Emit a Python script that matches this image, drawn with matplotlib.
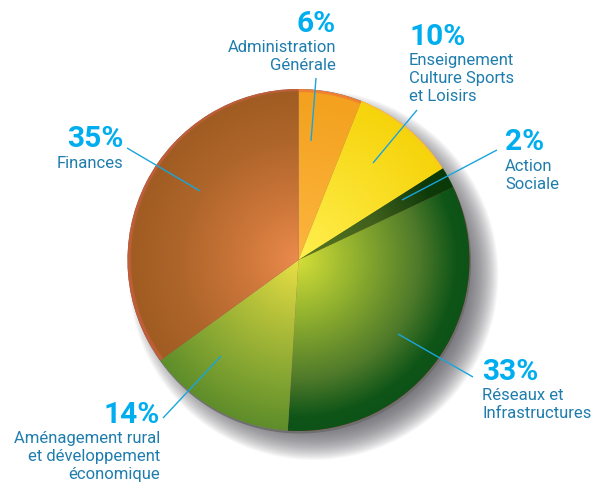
import numpy as np
import matplotlib
matplotlib.use("Agg")
import matplotlib.pyplot as plt
from matplotlib.colors import LinearSegmentedColormap

# valeurs, sens horaire depuis le haut
labels = ["Administration\nGénérale", "Enseignement\nCulture Sports\net Loisirs", "Action\nSociale",
          "Réseaux et\nInfrastructures", "Aménagement rural\net développement\néconomique", "Finances"]
values = [6, 10, 2, 33, 14, 35]

# degrades centre -> bord
stops = [
    [(0, "#FDB53F"), (0.975, "#F3A11E"), (0.98, "#EF7F33"), (1, "#EF7F33")],
    [(0, "#FFEF4F"), (0.98, "#F6D40C"), (0.99, "#F9C72A"), (1, "#F9C72A")],
    [(0, "#5A7A20"), (0.5, "#3F5F1C"), (0.85, "#0F3A0A"), (1, "#0A3A08")],
    [(0, "#D4DE38"), (0.32, "#94B32F"), (0.7, "#4F7A2A"), (0.92, "#0F5518"), (1, "#0D5217")],
    [(0, "#E9E045"), (0.35, "#B6C13A"), (0.7, "#85A632"), (1, "#5E8D2A")],
    [(0, "#EA8B4C"), (0.35, "#CB7539"), (0.7, "#AE652A"), (0.98, "#A05C22"), (0.985, "#BE5F39"), (1, "#BE5F39")],
]

H = 486
cx, cy, r = 298.5, 260, 171


def py(y):
    return H - y


fig = plt.figure(figsize=(5.96, 4.86), dpi=100)
ax = fig.add_axes([0, 0, 1, 1])

wedges, _ = ax.pie(values, startangle=90, counterclock=False, center=(cx, py(cy)), radius=r,
                   wedgeprops=dict(linewidth=0, zorder=4))

xx, yy = np.meshgrid(np.arange(0, 596, 0.5), np.arange(0, H, 0.5))
ext = (0, 596, 0, H)

# ombre portee : cercles empiles
for sr in np.arange(r + 14, r - 18, -1.0):
    ax.add_patch(plt.Circle((cx + 15, py(cy + 15)), sr, color="#55555E", alpha=0.04, lw=0, zorder=1))

# bord gris
ax.add_patch(plt.Circle((cx + 1.5, py(cy + 2.5)), r, color="#6E6E6E", lw=0, zorder=2))

rad = np.hypot(xx - cx, yy - py(cy)) / r
for w, s in zip(wedges, stops):
    cmap = LinearSegmentedColormap.from_list("w", s, N=512)
    im = ax.imshow(np.clip(rad, 0, 1), extent=ext, origin="lower", cmap=cmap, vmin=0, vmax=1,
                   zorder=5, aspect="auto", interpolation="bilinear")
    im.set_clip_path(w)

pct_col = "#00AEEF"
lab_col = "#1F7DAE"
line_col = "#19A5DC"
font = ["Roboto", "DejaVu Sans"]

# (x pct, y pct, x label, y label, alignement, trait)
layout = [
    (336, 24, 336, 40.5, "right", (316, 78, 311, 141)),
    (409, 37, 409, 53.5, "left", (417, 110, 373, 163)),
    (505, 142, 505, 159, "left", (497, 150, 402, 200)),
    (482, 372, 482, 388.5, "left", (473, 377, 398, 334)),
    (160, 415, 160, 431, "right", (163, 418, 221, 356)),
    (123, 139, 123, 156, "right", (127, 148, 200, 191)),
]

for v, lab, (xp, yp, xl, yl, ha, seg) in zip(values, labels, layout):
    ax.plot([seg[0], seg[2]], [py(seg[1]), py(seg[3])], color=line_col, lw=1.0, zorder=8,
            solid_capstyle="butt")
    ax.text(xp, py(yp), f"{v}%", color=pct_col, fontsize=21.5, fontweight="bold", ha=ha, va="center",
            family=font, zorder=9)
    ax.text(xl, py(yl), lab, color=lab_col, fontsize=12, ha=ha, va="top", family=font,
            linespacing=1.25, zorder=9)

ax.set_xlim(0, 596)
ax.set_ylim(0, H)
ax.set_aspect("auto")
ax.axis("off")

fig.savefig("out.png", dpi=100, facecolor="white")
